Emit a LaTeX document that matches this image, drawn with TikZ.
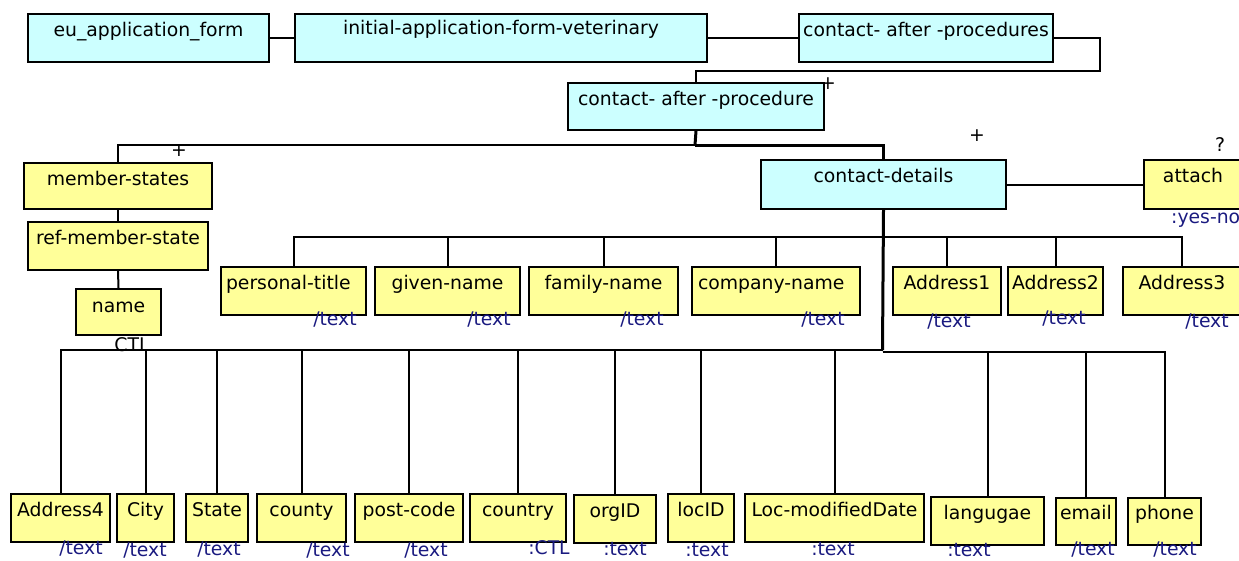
\documentclass[tikz,border=0pt]{standalone}
\usepackage{fontspec}
\setmainfont{DejaVu Sans}
\definecolor{cyanbox}{HTML}{CCFFFF}
\definecolor{yelbox}{HTML}{FFFF99}
\definecolor{annot}{HTML}{1A1A80}
\newcommand{\dfont}{\fontsize{18.8}{22}\selectfont}
\begin{document}
\begin{tikzpicture}[x=1pt,y=-1pt,
  box/.style={draw=black,line width=2pt,inner xsep=0pt,inner ysep=0pt,anchor=north west,font=\dfont},
  cy/.style={box,fill=cyanbox},
  ye/.style={box,fill=yelbox},
  geom/.style n args={3}{minimum width=#1pt,text height=#2pt,text depth=#3pt},
  lefttxt/.style 2 args={inner xsep=#1pt,text width=#2pt,align=left},
  ann/.style={anchor=base,font=\dfont,text=annot,inner sep=0pt},
  sym/.style={anchor=base,font=\dfont,inner sep=0pt},
  ln/.style={line width=2pt},
  thk/.style={line width=3pt}]
\useasboundingbox (0,0) rectangle (1239,560);
\clip (0,0) rectangle (1239,560);

% top row
\node[cy,geom={241}{22}{26}] (eu) at (27,13) {eu\_application\_form};
\node[cy,geom={412}{20}{28}] (initial) at (294,13) {initial-application-form-veterinary};
\node[cy,geom={254}{22}{26}] (caps) at (798,13) {contact- after -procedures};
\node[cy,geom={256}{22}{25}] (cap) at (567,82) {contact- after -procedure};

% left branch
\node[ye,geom={188}{22}{24}] (ms) at (23,162) {member-states};
\node[ye,geom={180}{22}{26}] (rms) at (27,221) {ref-member-state};
\node[ye,geom={85}{23}{23}] (name) at (75,288) {name};

% contact details
\node[cy,geom={245}{22}{27}] (cd) at (760,159) {contact-details};
\node[ye,geom={98}{22}{27}] (attach) at (1143,159) {attach};

% middle row
\node[ye,geom={145}{22}{26},lefttxt={5}{135}] (pt) at (220,266) {personal-title};
\node[ye,geom={145}{22}{26}] (gn) at (374,266) {given-name};
\node[ye,geom={149}{22}{26}] (fn) at (528,266) {family-name};
\node[ye,geom={168}{22}{26},lefttxt={6}{156}] (cn) at (691,266) {company-name};
\node[ye,geom={108}{22}{26}] (a1) at (892,266) {Address1};
\node[ye,geom={95}{22}{26}] (a2) at (1007,266) {Address2};
\node[ye,geom={118}{22}{26}] (a3) at (1122,266) {Address3};

% bottom row
\node[ye,geom={99}{22}{26}] (a4) at (10,493) {Address4};
\node[ye,geom={57}{22}{26}] (city) at (116,493) {City};
\node[ye,geom={62}{22}{26}] (state) at (185,493) {State};
\node[ye,geom={89}{22}{26}] (county) at (256,493) {county};
\node[ye,geom={108}{22}{26}] (pc) at (354,493) {post-code};
\node[ye,geom={96}{22}{26}] (country) at (469,493) {country};
\node[ye,geom={82}{22}{26}] (org) at (573,494) {orgID};
\node[ye,geom={66}{22}{26}] (loc) at (667,493) {locID};
\node[ye,geom={179}{22}{26}] (lmd) at (744,493) {Loc-modifiedDate};
\node[ye,geom={113}{22}{26}] (lang) at (930,496) {langugae};
\node[ye,geom={60}{21}{26}] (email) at (1055,497) {email};
\node[ye,geom={73}{21}{26}] (phone) at (1127,497) {phone};

% junctions
\coordinate (loop) at (1100,71);
\coordinate (b0) at (695,145);
\coordinate (b1) at (882.5,237);
\coordinate (b2) at (882.5,350);
\coordinate (b2r) at (882.5,352);

% connectors
\draw[ln] (eu.east) -- (initial.west);
\draw[ln] (initial.east) -- (caps.west);
\draw[ln] (caps.east) -| (loop) -| (cap.north);
\draw[thk] (cap.south) -- (b0);
\draw[ln] (b0) -| (ms.north);
\draw[thk] (b0) -| (cd.north);
\draw[ln] (ms.south) -- (rms.north);
\draw[ln] (rms.south) -- (name.north);
\draw[ln] (cd.east) -- (attach.west);
\draw[thk] (cd.south) -- (b2);
\foreach \n in {pt,gn,fn,cn,a1,a2,a3} \draw[ln] (b1) -| (\n.north);
\foreach \n in {a4,city,state,county,pc,country,org,loc,lmd} \draw[ln] (b2) -| (\n.north);
\foreach \n in {lang,email,phone} \draw[ln] (b2r) -| (\n.north);

% cardinality marks
\node[sym] (m1) at (828,89) {+};
\node[sym] (m2) at (179,156) {+};
\node[sym] (m3) at (977,141) {+};
\node[sym] (m4) at (1220,151) {?};

% type annotations
\node[ann,anchor=base west] (t0) at (1171,223) {:yes-no};
\node[sym] (tname) at (132,351) {CTL};
\node[ann] (t1) at (335,325) {/text};
\node[ann] (t2) at (489,325) {/text};
\node[ann] (t3) at (642,325) {/text};
\node[ann] (t4) at (823,325) {/text};
\node[ann] (t5) at (949,327) {/text};
\node[ann] (t6) at (1064,324) {/text};
\node[ann] (t7) at (1207,327) {/text};
\node[ann] (u1) at (81,554) {/text};
\node[ann] (u2) at (145,556) {/text};
\node[ann] (u3) at (219,555) {/text};
\node[ann] (u4) at (328,556) {/text};
\node[ann] (u5) at (426,556) {/text};
\node[ann] (u6) at (549,554) {:CTL};
\node[ann] (u7) at (625,555) {:text};
\node[ann] (u8) at (707,556) {:text};
\node[ann] (u9) at (833,555) {:text};
\node[ann] (u10) at (969,556) {:text};
\node[ann] (u11) at (1093,555) {/text};
\node[ann] (u12) at (1175,555) {/text};
\end{tikzpicture}
\end{document}
